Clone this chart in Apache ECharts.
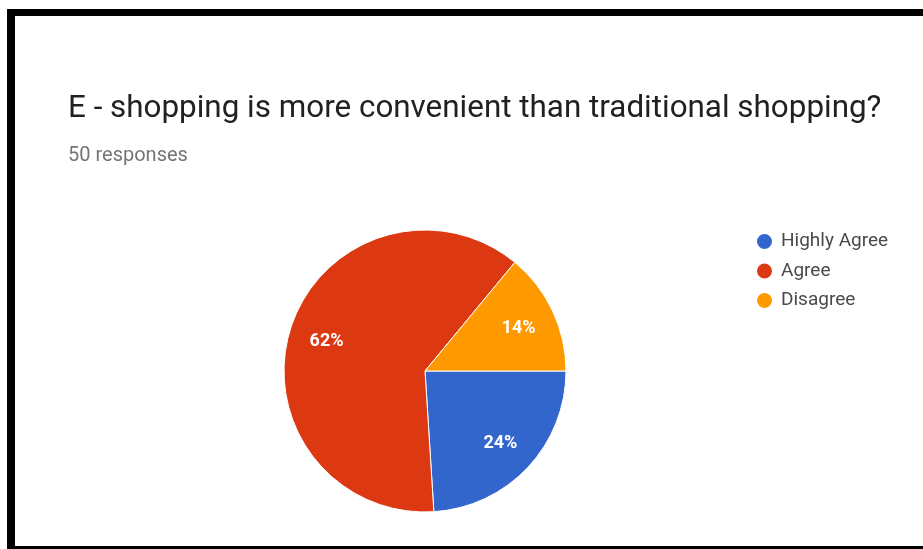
<!DOCTYPE html>
<html>
<head>
<meta charset="utf-8">
<script src="https://cdn.jsdelivr.net/npm/echarts@6/dist/echarts.min.js"></script>
<style>
  html, body { margin: 0; padding: 0; background: #fff; }
  #chart { width: 923px; height: 549px; }
</style>
</head>
<body>
<div id="chart"></div>
<script>
// Survey answers (share of 50 responses)
const categories = ['Highly Agree', 'Agree', 'Disagree'];
const percents = [24, 62, 14];
const colors = ['#3366cc', '#dc3912', '#ff9900'];

const pieData = categories.map((name, i) => ({ name, value: percents[i] }));
const center = [425, 371];

const chart = echarts.init(document.getElementById('chart'), null, { renderer: 'canvas' });

chart.setOption({
  animation: false,
  backgroundColor: '#ffffff',
  color: colors,
  title: [
    {
      text: 'E - shopping is more convenient than traditional shopping?',
      left: 63,
      top: 89,
      textStyle: { fontFamily: 'Roboto', fontSize: 31.4, fontWeight: 'normal', color: '#202124' }
    },
    {
      text: '50 responses',
      left: 63,
      top: 141,
      textStyle: { fontFamily: 'Roboto', fontSize: 20, fontWeight: 'normal', color: '#757575' }
    }
  ],
  legend: {
    orient: 'vertical',
    left: 750,
    top: 227,
    icon: 'circle',
    itemWidth: 17,
    itemHeight: 17,
    itemGap: 10.5,
    selectedMode: false,
    textStyle: { fontFamily: 'Roboto', fontSize: 19, color: '#4a4a4a', padding: [0, 0, 0, 3] },
    data: categories
  },
  series: [
    {
      // filled wedges
      type: 'pie',
      center: center,
      radius: 141,
      startAngle: 0,
      clockwise: true,
      silent: true,
      itemStyle: { borderColor: '#ffffff', borderWidth: 1 },
      label: { show: false },
      labelLine: { show: false },
      data: pieData
    },
    {
      // percentage labels placed on an outer ring
      type: 'pie',
      center: center,
      radius: [60, 141],
      startAngle: 0,
      clockwise: true,
      silent: true,
      itemStyle: { color: 'rgba(0,0,0,0)', borderWidth: 0 },
      label: {
        show: true,
        position: 'inside',
        formatter: '{c}%',
        color: '#ffffff',
        fontFamily: 'Roboto',
        fontSize: 18,
        fontWeight: 'bold',
        offset: [0, 2]
      },
      labelLine: { show: false },
      data: pieData
    }
  ],
  graphic: [
    // frame around the panel
    { type: 'rect', shape: { x: 7, y: 9, width: 916, height: 7 }, style: { fill: '#000' } },
    { type: 'rect', shape: { x: 7, y: 9, width: 8, height: 540 }, style: { fill: '#000' } },
    { type: 'rect', shape: { x: 7, y: 546, width: 916, height: 3 }, style: { fill: '#000' } }
  ]
});
</script>
</body>
</html>
